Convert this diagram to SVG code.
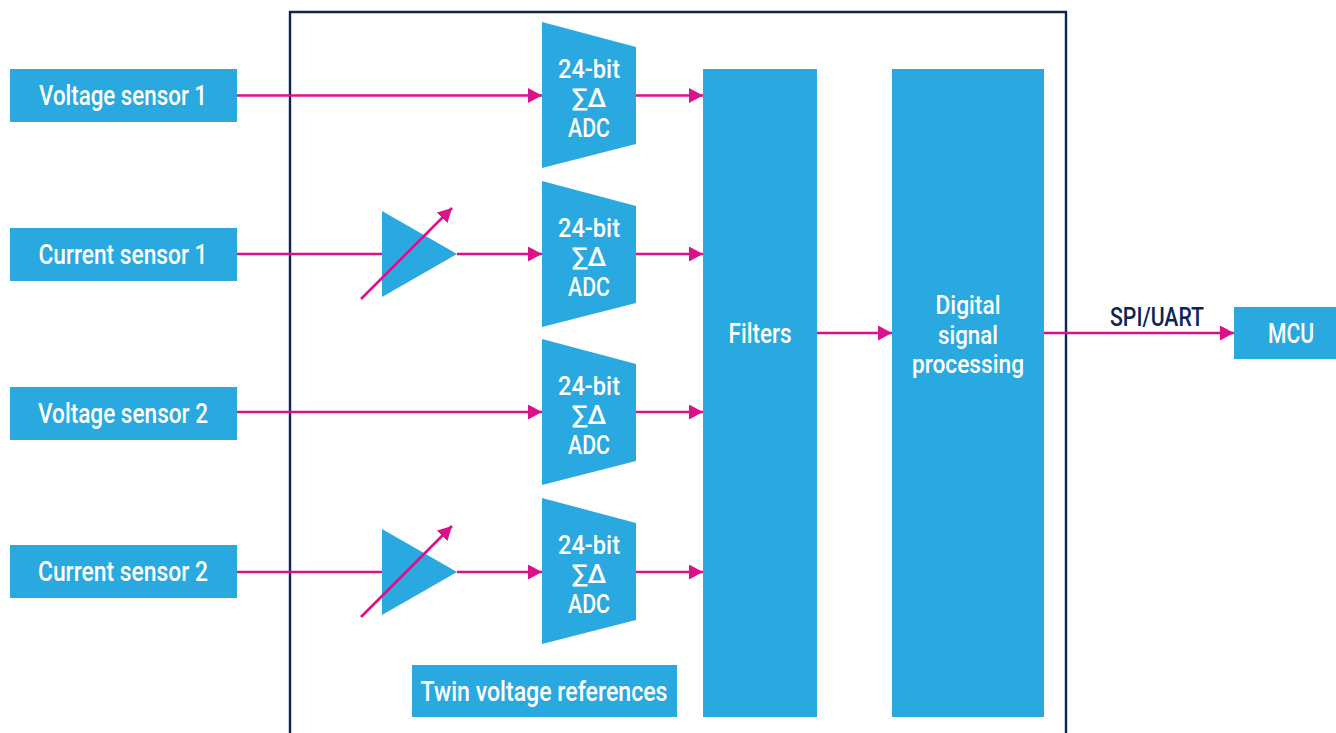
<svg xmlns="http://www.w3.org/2000/svg" width="1336" height="733" viewBox="0 0 1336 733">
<style>
.b{fill:#29a9e0}
.t{font-family:Roboto,"Liberation Sans",Arial,sans-serif;font-weight:500;font-size:27.5px;fill:#fff;text-anchor:middle}
.a{font-size:26px}
.w{stroke:#db118b;stroke-width:2.6;fill:none}
.frame{fill:none;stroke:#0b2555;stroke-width:2.4}
</style>
<defs>
<marker id="ah" markerUnits="userSpaceOnUse" markerWidth="15" markerHeight="15" refX="14" refY="7.5" orient="auto">
<path d="M0,0 L14,7.5 L0,15 Z" fill="#db118b"/>
</marker>
</defs>
<rect width="1336" height="733" fill="#fff"/>
<path class="frame" d="M290,740 V12 H1066 V740"/>

<g id="vs1"><rect class="b" x="10" y="69" width="227" height="53"/><text class="t" x="123" y="105" textLength="168" lengthAdjust="spacingAndGlyphs">Voltage sensor 1</text></g>
<g id="cs1"><rect class="b" x="10" y="228" width="227" height="53"/><text class="t" x="123" y="264" textLength="169" lengthAdjust="spacingAndGlyphs">Current sensor 1</text></g>
<g id="vs2"><rect class="b" x="10" y="387" width="227" height="53"/><text class="t" x="123" y="423" textLength="170" lengthAdjust="spacingAndGlyphs">Voltage sensor 2</text></g>
<g id="cs2"><rect class="b" x="10" y="545" width="227" height="53"/><text class="t" x="123" y="581" textLength="170" lengthAdjust="spacingAndGlyphs">Current sensor 2</text></g>

<g id="amp1"><path class="b" d="M382,211 L457,254 L382,297 Z"/></g>
<g id="amp2"><path class="b" d="M382,529 L457,572 L382,615 Z"/></g>

<g id="adc1"><path class="b" d="M542,22 L636,47 L636,144 L542,168 Z"/>
<text class="t a" x="589" y="78" textLength="62" lengthAdjust="spacingAndGlyphs">24-bit</text><text class="t a" x="589" y="107">∑Δ</text><text class="t a" x="589" y="137" textLength="42" lengthAdjust="spacingAndGlyphs">ADC</text></g>
<g id="adc2"><path class="b" d="M542,181 L636,206 L636,303 L542,327 Z"/>
<text class="t a" x="589" y="237" textLength="62" lengthAdjust="spacingAndGlyphs">24-bit</text><text class="t a" x="589" y="266">∑Δ</text><text class="t a" x="589" y="296" textLength="42" lengthAdjust="spacingAndGlyphs">ADC</text></g>
<g id="adc3"><path class="b" d="M542,339 L636,364 L636,461 L542,485 Z"/>
<text class="t a" x="589" y="395" textLength="62" lengthAdjust="spacingAndGlyphs">24-bit</text><text class="t a" x="589" y="424">∑Δ</text><text class="t a" x="589" y="454" textLength="42" lengthAdjust="spacingAndGlyphs">ADC</text></g>
<g id="adc4"><path class="b" d="M542,498 L636,523 L636,620 L542,644 Z"/>
<text class="t a" x="589" y="554" textLength="62" lengthAdjust="spacingAndGlyphs">24-bit</text><text class="t a" x="589" y="583">∑Δ</text><text class="t a" x="589" y="613" textLength="42" lengthAdjust="spacingAndGlyphs">ADC</text></g>

<g id="filters"><rect class="b" x="703" y="69" width="114" height="648"/><text class="t" x="760" y="343" textLength="63" lengthAdjust="spacingAndGlyphs">Filters</text></g>
<g id="dsp"><rect class="b" x="892" y="69" width="152" height="648"/>
<text class="t a" x="968" y="314" textLength="65" lengthAdjust="spacingAndGlyphs">Digital</text><text class="t a" x="968" y="344" textLength="60" lengthAdjust="spacingAndGlyphs">signal</text><text class="t a" x="968" y="373" textLength="112" lengthAdjust="spacingAndGlyphs">processing</text></g>
<g id="refs"><rect class="b" x="412" y="665" width="265" height="52"/><text class="t" x="544" y="701" textLength="247" lengthAdjust="spacingAndGlyphs">Twin voltage references</text></g>
<g id="mcu"><rect class="b" x="1234" y="307" width="102" height="52"/><text class="t" x="1291" y="343" textLength="46" lengthAdjust="spacingAndGlyphs">MCU</text></g>

<g id="connectors">
<path class="w" marker-end="url(#ah)" d="M237,95.5 H542"/>
<path class="w" d="M237,254 H382"/>
<path class="w" marker-end="url(#ah)" d="M457,254 H542"/>
<path class="w" marker-end="url(#ah)" d="M237,412 H542"/>
<path class="w" d="M237,572 H382"/>
<path class="w" marker-end="url(#ah)" d="M457,572 H542"/>
<path class="w" marker-end="url(#ah)" d="M361,299 L452,208"/>
<path class="w" marker-end="url(#ah)" d="M361,617 L452,526"/>
<path class="w" marker-end="url(#ah)" d="M636,95.5 H703"/>
<path class="w" marker-end="url(#ah)" d="M636,254 H703"/>
<path class="w" marker-end="url(#ah)" d="M636,412 H703"/>
<path class="w" marker-end="url(#ah)" d="M636,572 H703"/>
<path class="w" marker-end="url(#ah)" d="M817,333 H892"/>
<path class="w" marker-end="url(#ah)" d="M1044,333 H1234"/>
<text x="1157" y="326" font-family="Roboto, Liberation Sans, Arial, sans-serif" font-weight="500" font-size="26" fill="#0b2555" text-anchor="middle" textLength="94" lengthAdjust="spacingAndGlyphs">SPI/UART</text>
</g>
</svg>
